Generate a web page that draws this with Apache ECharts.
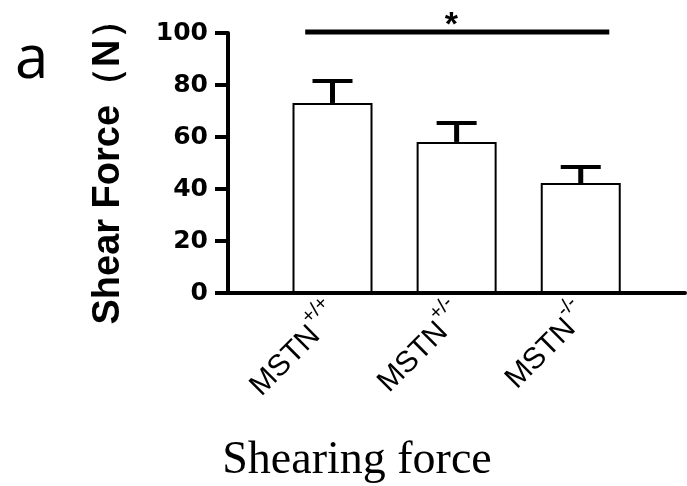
<!DOCTYPE html>
<html>
<head>
<meta charset="utf-8">
<script src="https://cdn.jsdelivr.net/npm/echarts@6/dist/echarts.min.js"></script>
<style>
html,body{margin:0;padding:0;background:#fff;}
#chart{width:687px;height:486px;}
</style>
</head>
<body>
<div id="chart"></div>
<script>
// Data
const categories = ['MSTN', 'MSTN', 'MSTN'];
const genotypes = ['+/+', '+/-', '-/-'];
const means = [73.1, 58.1, 42.3];
const sems = [8.4, 7.3, 6.2];
const yTicks = [0, 20, 40, 60, 80, 100];
const sigBracket = [0.78, 3.23, 100.4]; // x start, x end, y level
const sigLabel = '*';

const positions = categories.map((c, i) => i + 1);
const barData = means.map((m, i) => [positions[i], m]);
const errData = means.map((m, i) => [positions[i], m, m + sems[i]]);

const chart = echarts.init(document.getElementById('chart'));
chart.setOption({
  backgroundColor: '#fff',
  animation: false,
  grid: { left: 228, right: 2, top: 33, bottom: 193, containLabel: false, outerBoundsMode: 'none' },
  xAxis: {
    type: 'value',
    min: 0.158,
    max: 3.84,
    splitLine: { show: false },
    axisLine: { show: true, onZero: false, lineStyle: { color: '#000', width: 4 } },
    axisTick: { show: false },
    axisLabel: {
      customValues: positions,
      rotate: 45,
      margin: 14,
      formatter: function (v) {
        const i = Math.round(v) - 1;
        return '{b|' + categories[i] + '}{s|' + genotypes[i] + '}';
      },
      rich: {
        b: { fontFamily: 'Liberation Sans', fontSize: 30, color: '#000', verticalAlign: 'bottom', lineHeight: 40 },
        s: { fontFamily: 'Liberation Sans', fontSize: 20, color: '#000', verticalAlign: 'top', lineHeight: 40 }
      }
    }
  },
  yAxis: {
    type: 'value',
    min: 0,
    max: 100,
    interval: 20,
    splitLine: { show: false },
    axisLine: { show: true, lineStyle: { color: '#000', width: 4 } },
    axisTick: { show: true, inside: false, length: 13, lineStyle: { color: '#000', width: 4 } },
    axisLabel: {
      margin: 20,
      color: '#000',
      fontFamily: 'DejaVu Sans',
      fontWeight: 'bold',
      fontSize: 25,
      customValues: yTicks
    },
    name: 'Shear Force（N）',
    nameLocation: 'middle',
    nameRotate: 90,
    nameGap: 100,
    nameTextStyle: { fontFamily: 'Liberation Sans', fontWeight: 'bold', fontSize: 38, color: '#000' }
  },
  series: [
    {
      type: 'bar',
      data: barData,
      barWidth: 80,
      itemStyle: { color: '#fff', borderColor: '#000', borderWidth: 2 },
      z: 2
    },
    {
      type: 'custom',
      data: errData,
      z: 3,
      clip: false,
      renderItem: function (params, api) {
        const x = api.value(0);
        const base = api.coord([x, api.value(1)]);
        const top = api.coord([x, api.value(2)]);
        return {
          type: 'group',
          children: [
            { type: 'line', shape: { x1: base[0], y1: base[1], x2: top[0], y2: top[1] }, style: { stroke: '#000', lineWidth: 5 } },
            { type: 'line', shape: { x1: top[0] - 20, y1: top[1], x2: top[0] + 20, y2: top[1] }, style: { stroke: '#000', lineWidth: 4 } }
          ]
        };
      }
    },
    {
      type: 'custom',
      data: [sigBracket],
      z: 3,
      clip: false,
      renderItem: function (params, api) {
        const p1 = api.coord([api.value(0), api.value(2)]);
        const p2 = api.coord([api.value(1), api.value(2)]);
        return {
          type: 'group',
          children: [
            { type: 'line', shape: { x1: p1[0], y1: p1[1], x2: p2[0], y2: p2[1] }, style: { stroke: '#000', lineWidth: 5 } },
            { type: 'text', x: (p1[0] + p2[0]) / 2 - 6, y: p1[1] - 23, style: { text: sigLabel, fill: '#000', font: 'bold 34px "Liberation Sans"', textAlign: 'center', textVerticalAlign: 'top' } }
          ]
        };
      }
    }
  ],
  graphic: [
    { type: 'text', left: 15, top: 31, style: { text: 'a', font: '60px "Open Sans"', fill: '#000' } },
    { type: 'text', x: 357, y: 484, style: { text: 'Shearing force', font: '46px "Liberation Serif"', fill: '#000', textAlign: 'center', textVerticalAlign: 'bottom' } }
  ]
});
</script>
</body>
</html>
